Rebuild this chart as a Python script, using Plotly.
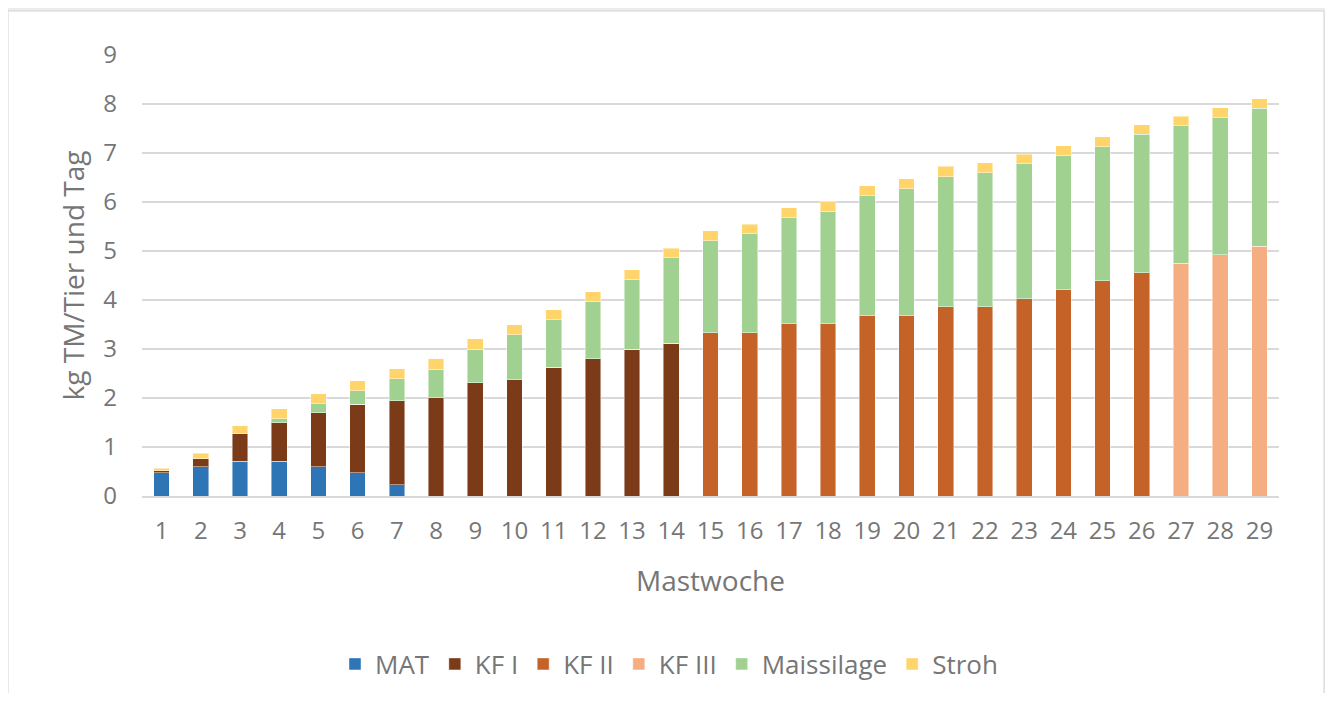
import plotly.graph_objects as go

weeks = [str(i) for i in range(1, 30)]

mat = [0.47, 0.60, 0.71, 0.71, 0.60, 0.47, 0.23] + [0] * 22
kf1 = [0.05, 0.16, 0.56, 0.79, 1.10, 1.40, 1.71, 2.01, 2.31, 2.37, 2.63, 2.80, 2.99, 3.12] + [0] * 15
kf2 = [0] * 14 + [3.33, 3.33, 3.52, 3.52, 3.68, 3.68, 3.86, 3.86, 4.03, 4.21, 4.39, 4.56] + [0] * 3
kf3 = [0] * 26 + [4.75, 4.92, 5.10]
mais = [0, 0, 0, 0.08, 0.18, 0.28, 0.45, 0.58, 0.69, 0.92, 0.97, 1.17, 1.43, 1.74,
        1.88, 2.02, 2.16, 2.29, 2.45, 2.59, 2.66, 2.74, 2.75, 2.74, 2.74, 2.82, 2.81, 2.80, 2.81]
stroh = [0.05, 0.11, 0.16, 0.20, 0.21, 0.20, 0.21, 0.21, 0.21, 0.20, 0.20, 0.20, 0.20, 0.20,
         0.20, 0.20, 0.20, 0.21, 0.20, 0.20, 0.21, 0.20, 0.19, 0.20, 0.20, 0.20, 0.19, 0.20, 0.20]

series = [
    ("MAT", mat, "#2E75B6"),
    ("KF I", kf1, "#7B3B19"),
    ("KF II", kf2, "#C46228"),
    ("KF III", kf3, "#F5AE82"),
    ("Maissilage", mais, "#A0D191"),
    ("Stroh", stroh, "#FFD56B"),
]

font_family = "Open Sans"
grey = "#767676"

W, H = 1317, 685
L, T, R, B = 134, 47, 46, 197
PW, PH = W - L - R, H - T - B

fig = go.Figure()
for name, vals, col in series:
    fig.add_trace(go.Bar(
        x=weeks, y=vals, name=name,
        marker=dict(color=col, line=dict(color="rgba(255,255,255,0.45)", width=1)),
    ))

fig.update_layout(
    barmode="stack",
    bargap=0.6,
    width=W, height=H,
    margin=dict(l=L, r=R, t=T, b=B, autoexpand=False),
    paper_bgcolor="#ececec",
    plot_bgcolor="white",
    font=dict(family=font_family, color=grey, size=24),
    showlegend=True,
    legend=dict(orientation="h", x=0.4635, xanchor="center", y=-0.381, yanchor="middle",
                font=dict(size=26, color=grey), traceorder="normal",
                itemwidth=30, bgcolor="rgba(0,0,0,0)"),
    xaxis=dict(
        type="category", automargin=False,
        title=dict(text="Mastwoche", font=dict(size=28, color=grey), standoff=27),
        tickfont=dict(size=24, color=grey),
        showgrid=False,
        showline=True, linecolor="#d9d9d9", linewidth=2,
        ticks="", ticklabelstandoff=12,
    ),
    yaxis=dict(
        range=[0, 9], dtick=1, automargin=False,
        title=dict(text="kg TM/Tier und Tag", font=dict(size=28, color=grey), standoff=10),
        tickfont=dict(size=24, color=grey),
        gridcolor="#d9d9d9", gridwidth=2,
        zeroline=False,
        ticks="", ticklabelstandoff=24,
    ),
    shapes=[dict(type="rect", xref="paper", yref="paper",
                 x0=(0 - L) / PW, x1=(W - 1 - L) / PW,
                 y0=(PH - (H + 20 - T)) / PH, y1=(PH - (3 - T)) / PH,
                 fillcolor="white", line=dict(color="#d4d4d4", width=1), layer="below")],
)

fig.write_html("out.html")
